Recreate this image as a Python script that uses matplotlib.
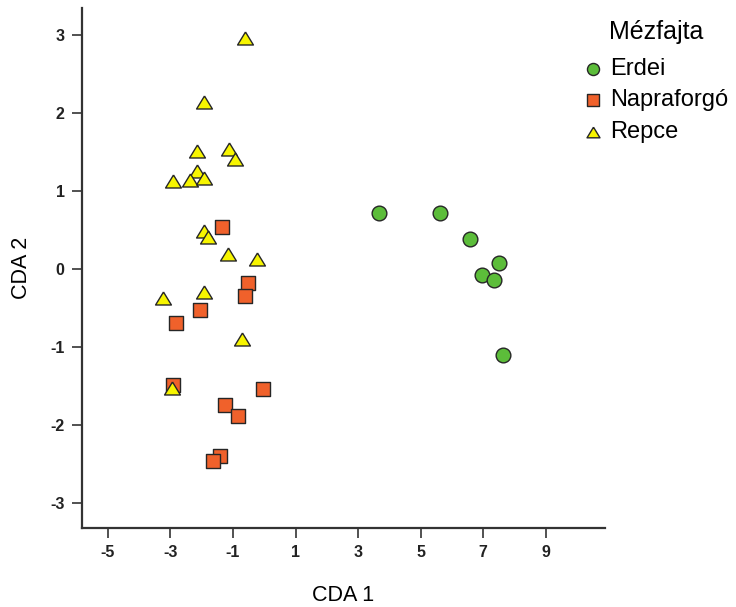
import matplotlib

matplotlib.use("Agg")
import matplotlib.pyplot as plt

plt.rcParams["font.family"] = ["Liberation Sans", "DejaVu Sans"]
plt.rcParams["axes.unicode_minus"] = False

# canonical discriminant scores per honey type
erdei_x = [3.67, 5.63, 6.59, 7.50, 6.95, 7.35, 7.65]
erdei_y = [0.71, 0.72, 0.38, 0.07, -0.08, -0.14, -1.10]

napraforgo_x = [-1.36, -0.53, -0.60, -2.04, -2.81, -2.92, -0.03, -1.25, -0.85, -1.40, -1.64]
napraforgo_y = [0.53, -0.18, -0.35, -0.53, -0.70, -1.49, -1.54, -1.74, -1.88, -2.40, -2.46]

repce_x = [-0.62, -1.93, -2.14, -1.14, -0.94, -2.92, -2.15, -2.38, -1.93,
           -1.93, -1.80, -1.17, -0.24, -1.93, -3.25, -0.72, -2.95]
repce_y = [2.96, 2.14, 1.51, 1.53, 1.40, 1.12, 1.25, 1.14, 1.16,
           0.49, 0.41, 0.19, 0.13, -0.30, -0.37, -0.90, -1.53]

x_ticks = [-5, -3, -1, 1, 3, 5, 7, 9]
y_ticks = [-3, -2, -1, 0, 1, 2, 3]

W, H = 736, 607
fig = plt.figure(figsize=(W / 100, H / 100), dpi=100)
ax = fig.add_axes([82 / W, (H - 528) / H, (605 - 82) / W, (528 - 8) / H])

edge = "#262626"
# slightly flattened triangle
tri = [(0, 0.82), (-1, -0.82), (1, -0.82), (0, 0.82)]
ax.scatter(erdei_x, erdei_y, s=112, marker="o", c="#5cbd3a", edgecolors=edge,
           linewidths=1.0, label="Erdei", zorder=3)
ax.scatter(napraforgo_x, napraforgo_y, s=106, marker="s", c="#f0612b", edgecolors=edge,
           linewidths=1.0, label="Napraforgó", zorder=3)
ax.scatter(repce_x, repce_y, s=130, marker=tri, c="#f7f500", edgecolors=edge,
           linewidths=1.0, label="Repce", zorder=4)

ax.set_xlim(-5.83, 10.9)
ax.set_ylim(-3.32, 3.34)
ax.set_xticks(x_ticks)
ax.set_yticks(y_ticks)
for side in ("top", "right"):
    ax.spines[side].set_visible(False)
for side in ("left", "bottom"):
    ax.spines[side].set_linewidth(1.6)
    ax.spines[side].set_color("#333333")
ax.tick_params(length=7, width=1.2, color="#333333", labelsize=11.5, pad=5.5)
for lab in ax.get_xticklabels() + ax.get_yticklabels():
    lab.set_fontweight("bold")
    lab.set_color("#222222")

ax.set_xlabel("CDA 1", fontsize=15.5, labelpad=18)
ax.set_ylabel("CDA 2", fontsize=15.5, labelpad=13)

leg = ax.legend(title="Mézfajta", loc="upper left", bbox_to_anchor=(584 / W, 1 - 20 / H),
                bbox_transform=fig.transFigure, frameon=False, fontsize=17,
                title_fontsize=18, handletextpad=0.3, labelspacing=0.4,
                borderaxespad=0, borderpad=0, handlelength=0.8, markerscale=0.82)
# more room between the title and the first entry
leg._legend_box.sep = 10

fig.savefig("out.png", dpi=100)
